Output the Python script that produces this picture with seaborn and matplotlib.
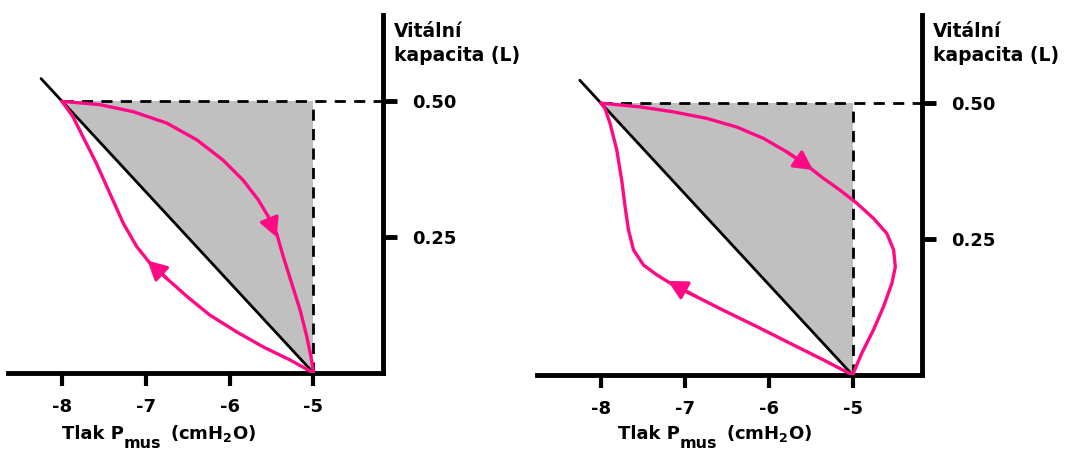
import matplotlib
matplotlib.use("Agg")
import matplotlib.pyplot as plt
import seaborn as sns

sns.set_theme(style="white")
plt.rcParams["font.family"] = ["DejaVu Sans"]
plt.rcParams["mathtext.fontset"] = "dejavusans"
plt.rcParams["text.color"] = "black"

PINK = "#ff0a84"
GRAY = "#c0c0c0"

x_ticks = [-8, -7, -6, -5]
y_ticks = [0.25, 0.50]
y_tick_labels = ["0.25", "0.50"]
y_label = "Vitální\nkapacita (L)"
x_label_main = "Tlak P"
x_label_sub = "mus"
x_label_unit = r"(cmH$_{\mathbf{2}}$O)"

# static compliance line and work area (shaded triangle)
line_x = [-8.25, -5.0]
line_y = [0.542, 0.0]
work_x = [-8.0, -5.0, -5.0]
work_y = [0.5, 0.5, 0.0]

# panel A: normal loop
a_out_x = [-8.0, -7.55, -7.15, -6.75, -6.39, -6.08, -5.84, -5.66, -5.54, -5.44,
           -5.36, -5.26, -5.16, -5.08, -5.03, -5.0]
a_out_y = [0.5, 0.494, 0.481, 0.460, 0.429, 0.392, 0.355, 0.319, 0.288, 0.257,
           0.214, 0.165, 0.116, 0.067, 0.030, 0.0]
a_back_x = [-5.0, -5.28, -5.60, -5.92, -6.24, -6.51, -6.75, -6.95, -7.11, -7.27,
            -7.43, -7.59, -7.75, -7.87, -8.0]
a_back_y = [0.0, 0.024, 0.048, 0.076, 0.107, 0.141, 0.174, 0.202, 0.233, 0.276,
            0.331, 0.386, 0.435, 0.472, 0.5]
a_arrows = [((-5.54, 0.288), (-5.44, 0.25)), ((-6.75, 0.174), (-6.98, 0.207))]

# panel B: loop bulging past -5
b_out_x = [-8.0, -7.53, -7.14, -6.74, -6.38, -6.06, -5.78, -5.55, -5.35, -5.15,
           -4.95, -4.75, -4.59, -4.51, -4.49, -4.53, -4.63, -4.75, -4.89, -5.0]
b_out_y = [0.5, 0.493, 0.484, 0.472, 0.456, 0.435, 0.410, 0.386, 0.362, 0.340,
           0.316, 0.288, 0.260, 0.230, 0.199, 0.169, 0.126, 0.083, 0.040, 0.0]
b_back_x = [-5.0, -5.35, -5.74, -6.14, -6.54, -6.86, -7.10, -7.33, -7.49, -7.61,
            -7.67, -7.71, -7.75, -7.81, -7.89, -7.95, -8.0]
b_back_y = [0.0, 0.028, 0.058, 0.089, 0.119, 0.144, 0.162, 0.184, 0.202, 0.230,
            0.267, 0.309, 0.358, 0.414, 0.463, 0.490, 0.5]
b_arrows = [((-5.78, 0.410), (-5.47, 0.377)), ((-6.86, 0.144), (-7.20, 0.173))]

panels = [
    dict(rect=[8 / 1072, 1 - 373 / 451, 375 / 1072, 358 / 451],
         xlim=(-8.644, -4.171), ylim=(0, 0.659),
         out=(a_out_x, a_out_y), back=(a_back_x, a_back_y), arrows=a_arrows,
         xlab_pos=(0.144, -0.185)),
    dict(rect=[537 / 1072, 1 - 375 / 451, 385 / 1072, 360 / 451],
         xlim=(-8.760, -4.172), ylim=(0, 0.662),
         out=(b_out_x, b_out_y), back=(b_back_x, b_back_y), arrows=b_arrows,
         xlab_pos=(0.21, -0.178)),
]

fig = plt.figure(figsize=(10.72, 4.51), dpi=100)
fig.patch.set_facecolor("white")

for p in panels:
    ax = fig.add_axes(p["rect"])
    ax.set_facecolor("white")
    ax.set_xlim(*p["xlim"])
    ax.set_ylim(*p["ylim"])

    ax.fill(work_x, work_y, color=GRAY, lw=0, zorder=1)
    ax.plot([work_x[0], p["xlim"][1]], [0.5, 0.5], color="black", lw=2,
            ls=(0, (4, 3)), zorder=2, clip_on=False)
    ax.plot([-5, -5], [0, 0.5], color="black", lw=2, ls=(0, (4, 3)), zorder=2)

    sns.lineplot(x=line_x, y=line_y, color="black", lw=2, ax=ax,
                 sort=False, estimator=None, zorder=3)
    for xs, ys in (p["out"], p["back"]):
        sns.lineplot(x=xs, y=ys, color=PINK, lw=2.4, ax=ax,
                     sort=False, estimator=None, zorder=4)
        ax.lines[-1].set_solid_joinstyle("round")
    for tail, tip in p["arrows"]:
        ax.annotate("", xy=tip, xytext=tail,
                    arrowprops=dict(arrowstyle="-|>,head_length=0.95,head_width=0.5",
                                    color=PINK, lw=2.4, shrinkA=0, shrinkB=0),
                    zorder=5)

    for side in ("top", "left"):
        ax.spines[side].set_visible(False)
    for side in ("bottom", "right"):
        ax.spines[side].set_visible(True)
        ax.spines[side].set_linewidth(3.5)
        ax.spines[side].set_color("black")

    ax.yaxis.tick_right()
    ax.set_xticks(x_ticks)
    ax.set_xticklabels([str(t) for t in x_ticks])
    ax.set_yticks(y_ticks)
    ax.set_yticklabels(y_tick_labels)
    ax.tick_params(axis="x", direction="out", length=9, width=3, pad=9,
                   labelsize=13, colors="black", bottom=True)
    ax.tick_params(axis="y", direction="out", length=10, width=3.5, pad=11,
                   labelsize=13, colors="black", right=True, left=False)
    for lab in ax.get_xticklabels() + ax.get_yticklabels():
        lab.set_fontweight("bold")

    ax.text(1.028, 0.98, y_label, transform=ax.transAxes, ha="left", va="top",
            fontsize=13.5, fontweight="bold", color="black", linespacing=1.3)

    # axis title built from pieces so the subscript sits low and large
    t1 = ax.text(p["xlab_pos"][0], p["xlab_pos"][1], x_label_main,
                 transform=ax.transAxes, ha="left", va="baseline",
                 fontsize=13, fontweight="bold", color="black")
    t2 = ax.annotate(x_label_sub, xy=(1, 0), xycoords=t1,
                     xytext=(0, -3.2), textcoords="offset points",
                     ha="left", va="baseline", fontsize=11.5,
                     fontweight="bold", color="black", annotation_clip=False)
    ax.annotate(x_label_unit, xy=(1, 0), xycoords=(t2, t1),
                xytext=(6, 3.1), textcoords="offset points",
                ha="left", va="baseline", fontsize=13,
                fontweight="bold", color="black", annotation_clip=False)

fig.savefig("out.png", dpi=100, facecolor="white")
